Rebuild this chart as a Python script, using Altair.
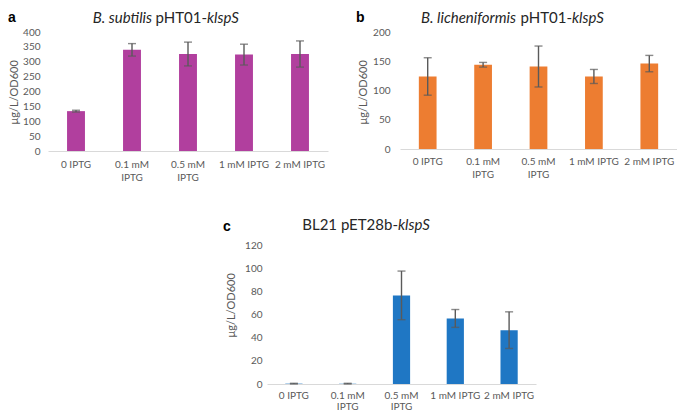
import json
import altair as alt
import pandas as pd

# ---------------- data ----------------
categories = ["0 IPTG", "0.1 mM IPTG", "0.5 mM IPTG", "1 mM IPTG", "2 mM IPTG"]
wrapped = {"0.1 mM IPTG": ["0.1 mM", "IPTG"], "0.5 mM IPTG": ["0.5 mM", "IPTG"]}

a_values = [134, 340, 326, 324, 326]
a_errors = [3, 21, 40, 35, 44]
b_values = [124, 144, 141, 124, 146]
b_errors = [32, 4, 35, 12, 14]
c_values = [0.3, 0.3, 76.5, 56.6, 46.5]
c_errors = [0.3, 0.3, 21, 7.7, 15.8]

a_ticks = [0, 50, 100, 150, 200, 250, 300, 350, 400]
b_ticks = [0, 50, 100, 150, 200]
c_ticks = [0, 20, 40, 60, 80, 100, 120]

# title pieces: (text, style, align)
a_title = [("B.\u00a0subtilis", "italic", "right"), ("pHT01-", "normal", "right"), ("klspS", "italic", "left")]
b_title = [("B.\u00a0licheniformis", "italic", "right"), ("pHT01-", "normal", "right"), ("klspS", "italic", "left")]
c_title = [("BL21 pET28b-", "normal", "right"), ("klspS", "italic", "left")]
y_title = "µg/L/OD600"

a_color = "#B13F9E"
b_color = "#ED7D31"
c_color = "#1F77C4"
err_color = "#5A5A5A"
label_color = "#595959"

label_expr = "datum.value"
for key, lines in wrapped.items():
    label_expr = f"datum.value == '{key}' ? {json.dumps(lines)} : " + label_expr


def text_layer(txt, x, y, size, style="normal", weight="normal", font="Lato",
               color="#262626", align="left"):
    return alt.Chart(pd.DataFrame({"t": [txt]})).mark_text(
        align=align, baseline="alphabetic", font=font, fontSize=size,
        fontStyle=style, fontWeight=weight, color=color,
    ).encode(text="t:N", x=alt.value(x), y=alt.value(y))


def panel(values, errors, color, ticks, width, height, letter, letter_xy,
          title_pieces, title_xs, title_y, ytitle_x, ytitle_y, ylab_pad,
          xlab_pad, xlab_lh):
    df = pd.DataFrame({"cond": categories, "value": values, "err": errors})
    df["lo"] = df["value"] - df["err"]
    df["hi"] = df["value"] + df["err"]
    xscale = alt.Scale(paddingInner=0.68, paddingOuter=0.34)
    xaxis = alt.Axis(labelAngle=0, labelExpr=label_expr, domainColor="#D9D9D9",
                     domainWidth=1, ticks=False, labelPadding=xlab_pad,
                     labelFont="Lato", labelFontSize=10, labelColor=label_color,
                     labelLineHeight=xlab_lh, labelBaseline="top")
    yscale = alt.Scale(domain=[ticks[0], ticks[-1]], nice=False)
    yaxis = alt.Axis(values=ticks, domain=False, ticks=False, grid=False,
                     labelOverlap=False,
                     labelFont="Lato", labelFontSize=10, labelColor=label_color,
                     labelPadding=ylab_pad, title=y_title, titleFont="Lato",
                     titleFontSize=11, titleFontWeight="normal",
                     titleColor=label_color, titleX=ytitle_x, titleY=ytitle_y,
                     titleBaseline="top", titleAngle=270, titleAlign="center")
    xenc = alt.X("cond:N", sort=categories, title=None, scale=xscale, axis=xaxis)

    def yenc(field):
        return alt.Y(f"{field}:Q", scale=yscale, axis=yaxis, title=y_title)

    base = alt.Chart(df)
    bars = base.mark_bar(color=color).encode(x=xenc, y=yenc("value"))
    rules = base.mark_rule(color=err_color, strokeWidth=1.4).encode(
        x=xenc, y=yenc("lo"), y2="hi:Q")
    cap_lo = base.mark_tick(color=err_color, size=8, thickness=1.4).encode(
        x=xenc, y=yenc("lo"))
    cap_hi = base.mark_tick(color=err_color, size=8, thickness=1.4).encode(
        x=xenc, y=yenc("hi"))
    layers = [bars, rules, cap_lo, cap_hi,
              text_layer(letter, letter_xy[0], letter_xy[1], 14, weight="bold",
                         font="Liberation Sans", color="#000000")]
    for (txt, style, align), tx in zip(title_pieces, title_xs):
        layers.append(text_layer(txt, tx, title_y, 15, style=style, align=align))
    return alt.layer(*layers).properties(width=width, height=height)


pa = panel(a_values, a_errors, a_color, a_ticks, 280, 119, "a", (-40, -10),
           a_title, [104, 159, 159], -9, -40, 60, 8, 8, 13)
pb = panel(b_values, b_errors, b_color, b_ticks, 277, 117, "b", (-44, -10),
           b_title, [116, 172, 172], -9, -43, 60, 10, 7, 13)
pc = panel(c_values, c_errors, c_color, c_ticks, 269, 139, "c", (-44, -14.5),
           c_title, [131, 131], -15, -42, 60, 5, 6, 11)

spacer = alt.Chart(pd.DataFrame({"v": [0]})).mark_point(opacity=0).encode(
    x=alt.X("v:Q", axis=None), y=alt.Y("v:Q", axis=None)
).properties(width=147, height=139)

row1 = alt.hconcat(pa, pb, spacing=72, bounds="flush")
row2 = alt.hconcat(spacer, pc, spacing=72, bounds="flush")

chart = alt.vconcat(row1, row2, spacing=36).properties(
    padding={"left": 0, "top": 3, "right": 0, "bottom": 0},
    background="white",
).configure_view(stroke=None)

chart.save("out.html", embed_options={"renderer": "svg", "actions": False})
